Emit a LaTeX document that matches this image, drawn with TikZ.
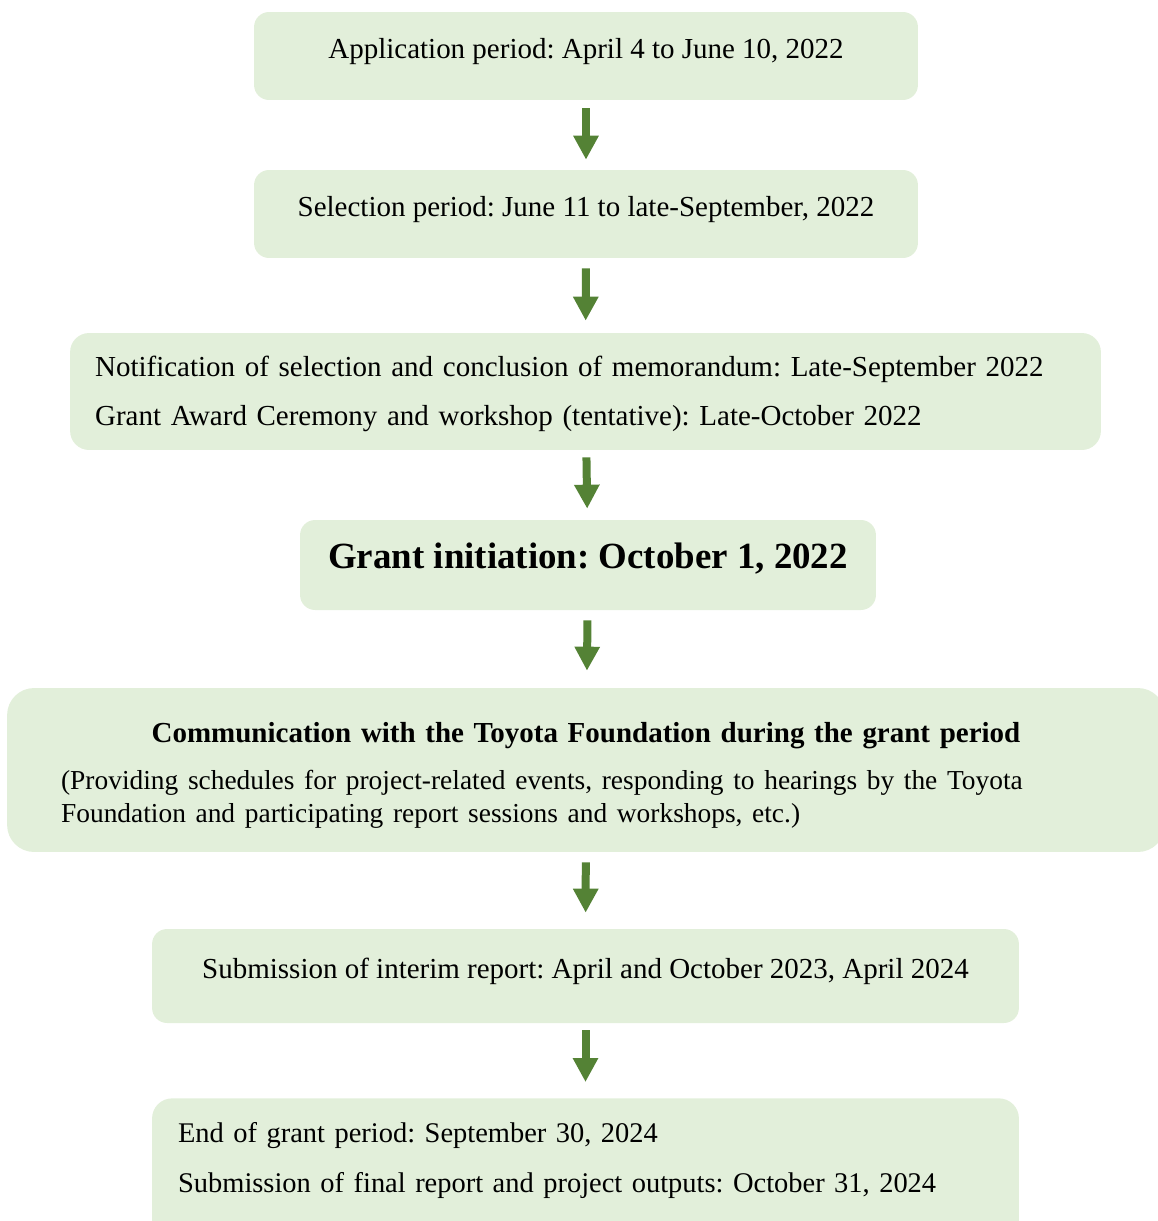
\documentclass[tikz,border=0pt]{standalone}
\usepackage{fontspec}
\setmainfont{Liberation Serif}
\usetikzlibrary{arrows.meta}
\definecolor{boxgreen}{HTML}{E2EFDA}
\definecolor{arrowgreen}{HTML}{548235}
\frenchspacing

\tikzset{
    box/.style={fill=boxgreen, rounded corners=0.3cm, inner sep=0pt,
        font=\fontsize{16.5}{18.7}\selectfont},
    onebox/.style={box, text height=0.38cm, text depth=0.30cm},
    flow/.style={arrowgreen, line width=0.16cm,
        -{Triangle[width=0.48cm,length=0.48cm]}}
}

\begin{document}
\begin{tikzpicture}[x=0.02cm, y=-0.02cm]
    \useasboundingbox (0,0) rectangle (1158,1221);

    % Steps before the grant
    \node[onebox, minimum width=13.28cm, minimum height=1.76cm] (apply) at (586,56)
        {Application period: April 4 to June 10, 2022};
    \node[onebox, minimum width=13.28cm, minimum height=1.76cm] (select) at (586,214)
        {Selection period: June 11 to late-September, 2022};
    \node[box, rounded corners=0.38cm, text width=19.62cm, inner xsep=0.5cm,
        text height=0.86cm, text depth=1.48cm, align=left] (notify) at (585.5,391.5)
        {Notification of selection and conclusion of memorandum: Late-September 2022\\[9.6pt]
         Grant Award Ceremony and workshop (tentative): Late-October 2022};

    % Grant start
    \node[box, minimum width=11.52cm, minimum height=1.8cm, text height=0.5cm,
        text depth=0.37cm, font=\fontsize{21}{25}\selectfont\bfseries] (start) at (588,565)
        {Grant initiation: October 1, 2022};

    % During the grant
    \node[box, rounded corners=0.54cm, text width=21cm, inner xsep=1.08cm,
        text height=1.08cm, text depth=2.2cm] (contact) at (586,770)
        {\centering\textbf{Communication with the Toyota Foundation during the grant period}\par
         \vspace{8.5pt}\raggedright\fontsize{15.6}{18.7}\selectfont
         (Providing schedules for project-related events, responding to hearings by the Toyota\\
         Foundation and participating report sessions and workshops, etc.)};
    \node[onebox, minimum width=17.34cm, minimum height=1.88cm] (interim) at (585.5,976)
        {Submission of interim report: April and October 2023, April 2024};

    % End of the grant
    \node[box, rounded corners=0.4cm, anchor=north, text width=16.3cm, inner xsep=0.52cm,
        text height=0.88cm, text depth=2.1cm, align=left,
        font=\fontsize{16.2}{18.7}\selectfont] (final) at (585.5,1098)
        {End of grant period: September 30, 2024\\[9.6pt]
         Submission of final report and project outputs: October 31, 2024};

    % Arrows
    \foreach \a/\b/\s/\e in {apply/select/0.16/0.2, select/notify/0.2/0.24,
        notify/start/0.14/0.22, start/contact/0.2/0.34,
        contact/interim/0.2/0.32, interim/final/0.14/0.32} {
        \draw[flow, shorten <=\s cm, shorten >=\e cm] (\a) -- (\b);
    }
\end{tikzpicture}
\end{document}
